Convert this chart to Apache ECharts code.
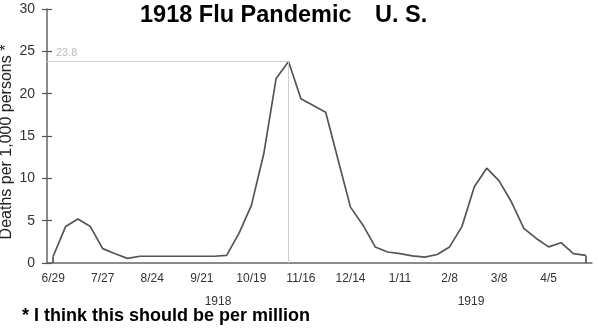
<!DOCTYPE html>
<html><head><meta charset="utf-8">
<script src="https://cdn.jsdelivr.net/npm/echarts@6/dist/echarts.min.js"></script>
<style>html,body{margin:0;padding:0;background:#fff}#c{width:598px;height:329px}</style>
</head><body><div id="c"></div>
<script>
const categories = ['6/29','7/6','7/13','7/20','7/27','8/3','8/10','8/17','8/24','8/31','9/7','9/14','9/21','9/28','10/5','10/12','10/19','10/26','11/2','11/9','11/16','11/23','11/30','12/7','12/14','12/21','12/28','1/4','1/11','1/18','1/25','2/1','2/8','2/15','2/22','3/1','3/8','3/15','3/22','3/29','4/5','4/12','4/19','4/26'];
const deaths = [0.8,4.3,5.2,4.3,1.7,1.1,0.55,0.8,0.8,0.8,0.8,0.8,0.8,0.8,0.9,3.5,6.8,12.9,21.8,23.8,19.4,18.6,17.8,12.2,6.6,4.5,1.9,1.3,1.1,0.85,0.7,1.0,1.9,4.3,9.0,11.2,9.7,7.2,4.1,2.9,1.9,2.4,1.1,0.9];
const yearLabels = ['1918','1919'];
const titleMain = '1918 Flu Pandemic';
const titleRegion = 'U. S.';
const yAxisName = 'Deaths per 1,000 persons *';
const footnote = '* I think this should be per million';

const FONT = "'Liberation Sans', Arial, Helvetica, sans-serif";
const GRID = {left: 47, right: 6, top: 9, bottom: 66};
const peak = Math.max(...deaths);
const peakIdx = deaths.indexOf(peak);
const last = deaths.length - 1;
const LINE = '#555';
const REF = '#cfcfcf';

const chart = echarts.init(document.getElementById('c'), null, {renderer: 'canvas'});
chart.setOption({
  animation: false,
  backgroundColor: '#fff',
  title: [
    {text: titleMain, left: 140, top: 4, padding: 0, textStyle: {fontFamily: FONT, fontSize: 23.5, fontWeight: 'bold', color: '#000'}},
    {text: titleRegion, left: 375, top: 4, padding: 0, textStyle: {fontFamily: FONT, fontSize: 23.5, fontWeight: 'bold', color: '#000'}}
  ],
  grid: Object.assign({containLabel: false, outerBoundsMode: 'none'}, GRID),
  xAxis: [
    {type: 'category', data: categories, boundaryGap: true,
     axisLine: {lineStyle: {color: '#666', width: 1.5}},
     axisTick: {interval: 0, length: 4, lineStyle: {color: '#555', width: 1.2}},
     axisLabel: {interval: 3, fontFamily: FONT, fontSize: 12, color: '#333', margin: 10},
     splitLine: {show: false}},
    {type: 'category', data: categories, boundaryGap: true, position: 'bottom',
     axisLine: {show: false},
     axisTick: {interval: 0, inside: true, length: 4, lineStyle: {color: '#555', width: 1.2}},
     axisLabel: {show: false}, splitLine: {show: false}}
  ],
  yAxis: [
    {type: 'value', min: 0, max: 30, interval: 5,
     name: yAxisName, nameLocation: 'middle', nameGap: 32, nameMoveOverlap: false,
     nameTextStyle: {fontFamily: FONT, fontSize: 16, color: '#222', padding: [0, 12, 0, 0]},
     axisLine: {show: true, lineStyle: {color: '#666', width: 1.5}},
     axisTick: {show: true, length: 5, lineStyle: {color: '#555', width: 1.2}},
     axisLabel: {fontFamily: FONT, fontSize: 14, color: '#333', margin: 12},
     splitLine: {show: false}},
    {type: 'value', min: 0, max: 30, interval: 5, position: 'left',
     axisLine: {show: false},
     axisTick: {show: true, inside: true, length: 5, lineStyle: {color: '#555', width: 1.2}},
     axisLabel: {show: false}, splitLine: {show: false}}
  ],
  series: [{
    type: 'line', data: deaths, symbol: 'none', silent: true,
    lineStyle: {color: LINE, width: 1.7},
    markLine: {
      silent: true, animation: false, symbol: ['none', 'none'],
      label: {show: false}, lineStyle: {type: 'solid'},
      data: [
        [{coord: [categories[0], peak], x: GRID.left, lineStyle: {color: REF, width: 1},
          label: {show: true, position: 'insideStartTop', distance: 3, padding: [0, 0, 0, 6], formatter: () => peak.toFixed(1), color: '#bbb', fontSize: 11, fontFamily: FONT}},
         {coord: [categories[peakIdx], peak]}],
        [{coord: [categories[peakIdx], peak], lineStyle: {color: REF, width: 1}}, {coord: [categories[peakIdx], 0]}],
        [{coord: [categories[0], 0], lineStyle: {color: LINE, width: 1.7}}, {coord: [categories[0], deaths[0]]}],
        [{coord: [categories[last], deaths[last]], lineStyle: {color: LINE, width: 1.7}}, {coord: [categories[last], 0]}]
      ]
    }
  }],
  graphic: [
    {type: 'text', x: 218, y: 302, style: {text: yearLabels[0], fontFamily: FONT, fontSize: 12, fill: '#333', align: 'center', verticalAlign: 'middle'}},
    {type: 'text', x: 471, y: 302, style: {text: yearLabels[1], fontFamily: FONT, fontSize: 12, fill: '#333', align: 'center', verticalAlign: 'middle'}},
    {type: 'text', x: 22, y: 316, style: {text: footnote, fontFamily: FONT, fontSize: 18, fontWeight: 'bold', fill: '#000', align: 'left', verticalAlign: 'middle'}}
  ]
});
</script></body></html>
